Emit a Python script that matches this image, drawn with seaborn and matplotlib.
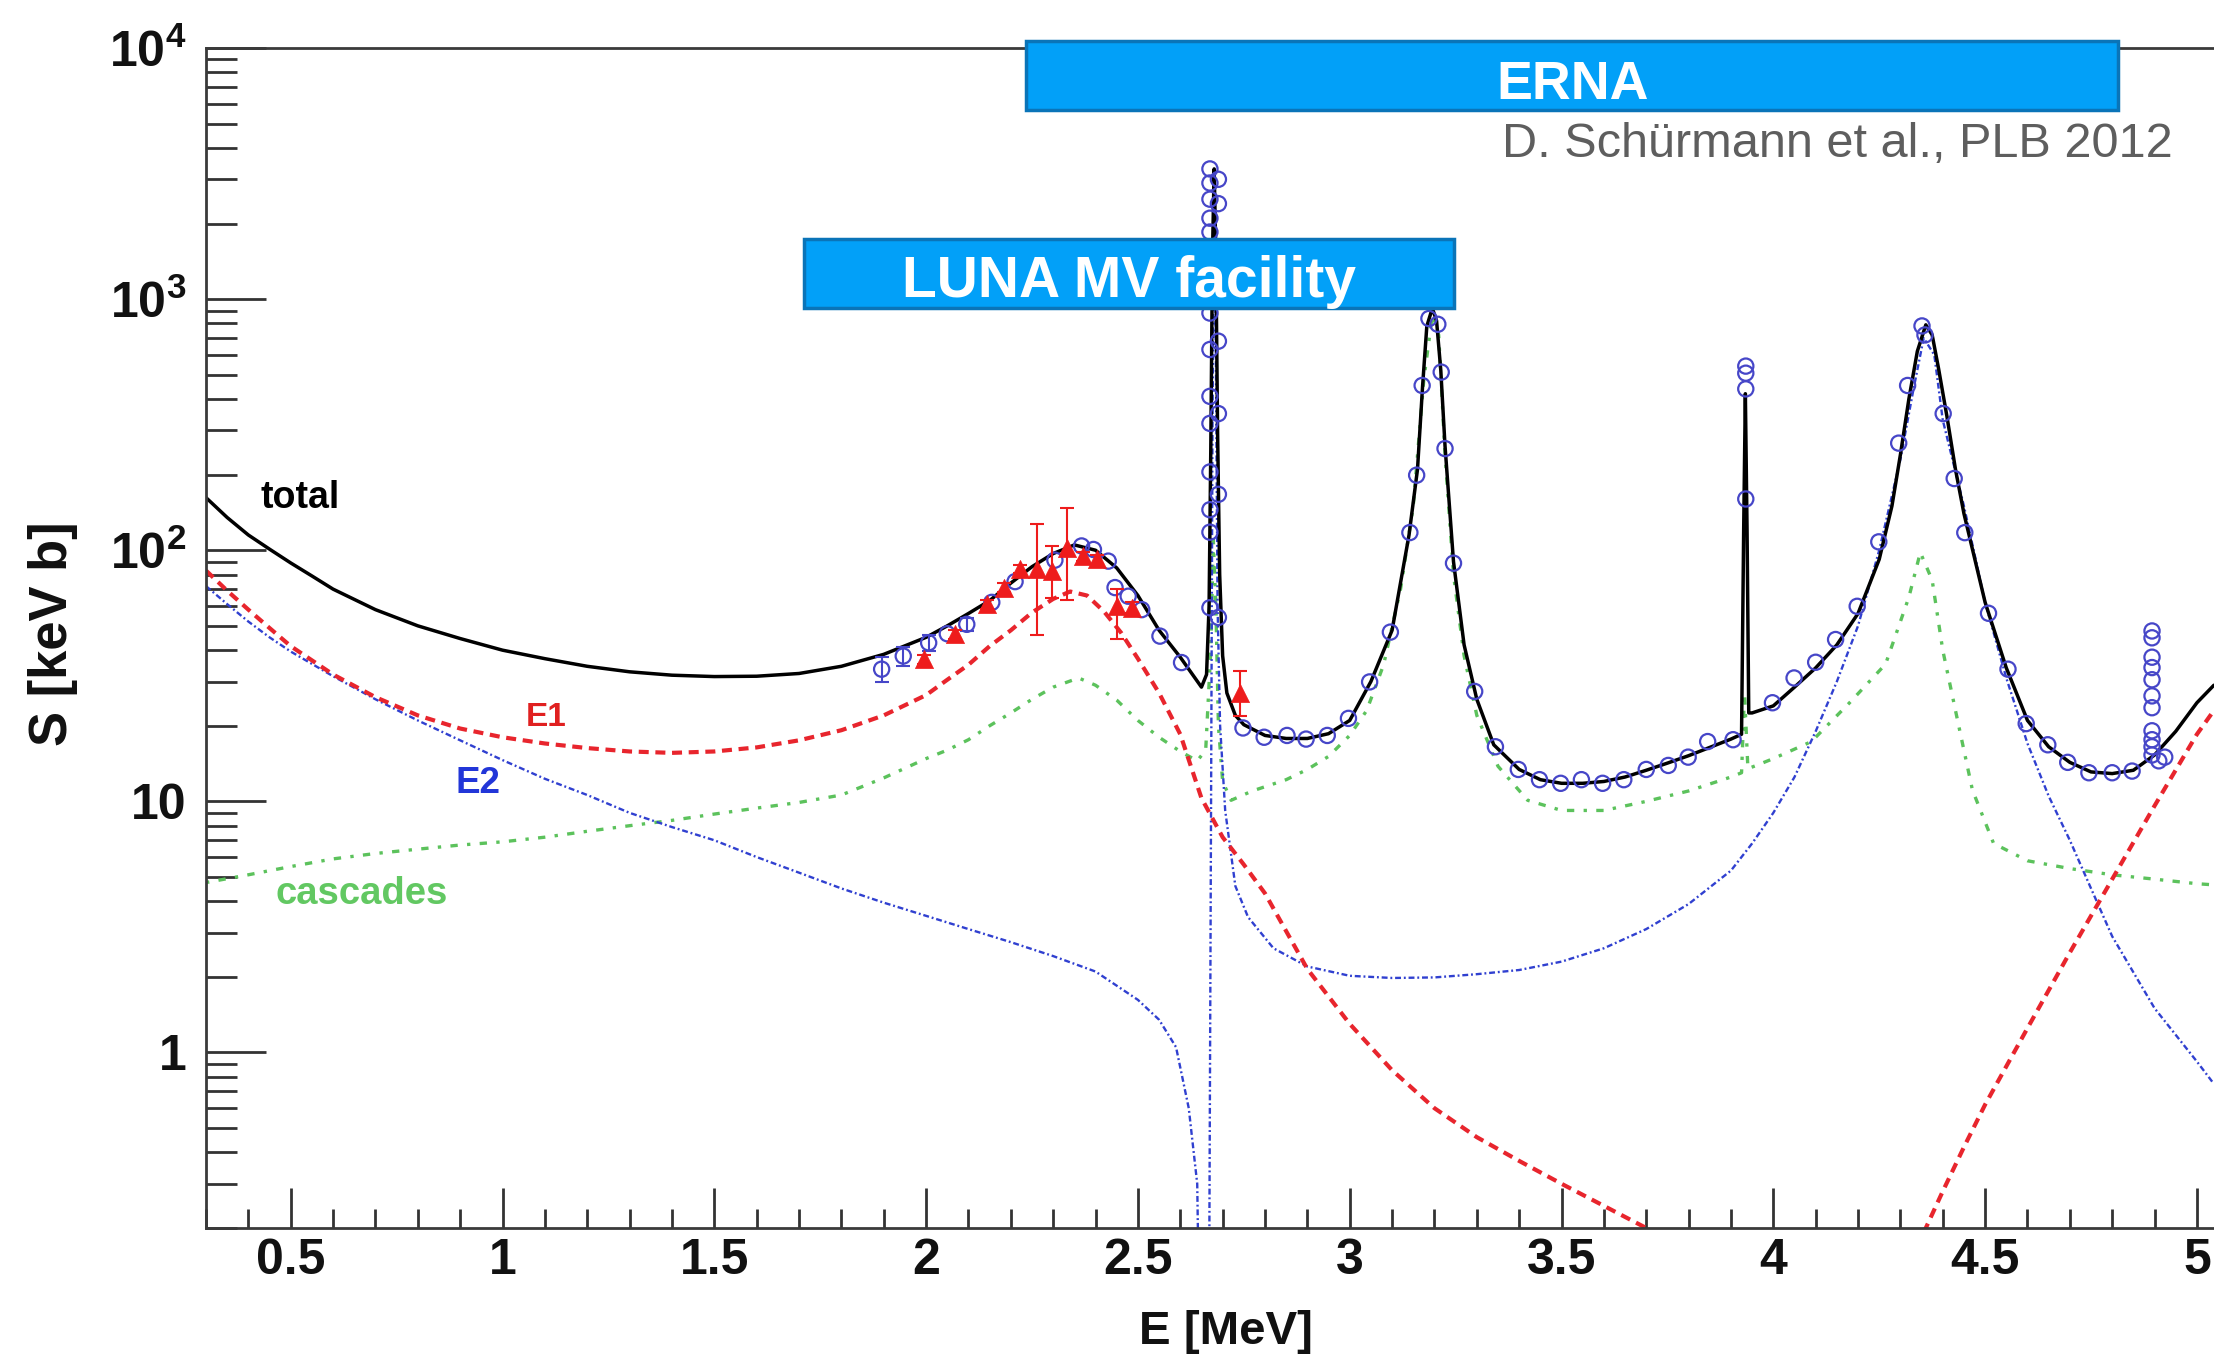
import numpy as np
import pandas as pd
import matplotlib
matplotlib.use("Agg")
import matplotlib.pyplot as plt
from matplotlib import font_manager as fm
from matplotlib.patches import Rectangle
from matplotlib.ticker import MultipleLocator, LogLocator, NullFormatter
import seaborn as sns

# ---------------- data ----------------
total_E = [0.30, 0.35, 0.40, 0.45, 0.50, 0.55, 0.60, 0.70, 0.80, 0.90, 1.00, 1.10, 1.20, 1.30,
           1.40, 1.50, 1.60, 1.70, 1.80, 1.90, 2.00, 2.05, 2.10, 2.15, 2.20, 2.25, 2.30, 2.35,
           2.40, 2.45, 2.50, 2.55, 2.60, 2.650, 2.662, 2.668, 2.672, 2.676, 2.680, 2.684, 2.688,
           2.693, 2.700, 2.710, 2.730, 2.750, 2.800, 2.850, 2.900, 2.950, 3.000, 3.050, 3.100,
           3.140, 3.160, 3.172, 3.182, 3.195, 3.205, 3.215, 3.225, 3.245, 3.270, 3.300, 3.340,
           3.400, 3.450, 3.500, 3.550, 3.600, 3.650, 3.700, 3.750, 3.800, 3.850, 3.900, 3.925,
           3.930, 3.934, 3.938, 3.942, 3.950, 4.000, 4.050, 4.100, 4.150, 4.200, 4.250, 4.280,
           4.300, 4.320, 4.340, 4.360, 4.375, 4.390, 4.410, 4.430, 4.450, 4.500, 4.550, 4.600,
           4.650, 4.700, 4.750, 4.800, 4.850, 4.900, 4.950, 5.000, 5.040]
total_S = [162, 135, 115, 101, 89, 79, 70, 58, 50, 44.5, 40, 37, 34.5, 32.8,
           31.8, 31.4, 31.5, 32.3, 34.5, 38.5, 45, 50, 56, 63, 74, 86, 97, 105,
           100, 85, 66, 48, 37.5, 28.5, 32, 60, 250, 1500, 3300, 1500, 300,
           80, 38, 27, 22, 20.2, 18.3, 17.8, 17.8, 18.6, 21, 30, 48,
           115, 210, 450, 780, 920, 820, 520, 260, 90, 42, 25.5, 16.8,
           13.4, 12.2, 11.8, 11.8, 12.0, 12.5, 13.3, 14.2, 15.2, 16.4, 17.7, 18.5,
           120, 420, 120, 22.5, 22.5, 24, 28.5, 34, 42, 56, 92, 150,
           240, 400, 620, 790, 720, 530, 340, 210, 140, 62, 34, 21,
           16.5, 14.3, 13.1, 12.9, 13.3, 15.3, 19, 24.7, 29]

e1_E = [0.30, 0.35, 0.40, 0.45, 0.50, 0.60, 0.70, 0.80, 0.90, 1.00, 1.10, 1.20, 1.30, 1.40,
        1.50, 1.60, 1.70, 1.80, 1.90, 2.00, 2.05, 2.10, 2.15, 2.20, 2.25, 2.30, 2.34, 2.38,
        2.42, 2.46, 2.50, 2.55, 2.60, 2.65, 2.70, 2.75, 2.80, 2.90, 3.00, 3.10, 3.20, 3.30,
        3.40, 3.50, 3.60, 3.70, 3.75]
e1_S = [83, 69, 58, 49, 41.5, 32, 26, 22, 19.5, 18, 17, 16.3, 15.8, 15.6,
        15.8, 16.4, 17.5, 19.2, 22, 26.5, 30.5, 35, 41.5, 48, 56.5, 64, 68.5, 66,
        57, 47, 37, 27, 18.5, 10.3, 7.2, 5.6, 4.3, 2.15, 1.3, 0.85, 0.6, 0.46,
        0.37, 0.3, 0.245, 0.2, 0.18]
e1_high_E = [4.33, 4.36, 4.40, 4.45, 4.50, 4.60, 4.70, 4.80, 4.90, 5.00, 5.04]
e1_high_S = [0.17, 0.2, 0.28, 0.42, 0.62, 1.25, 2.5, 4.9, 9.6, 18.5, 23]

e2_E = [0.30, 0.35, 0.40, 0.45, 0.50, 0.60, 0.70, 0.80, 0.90, 1.00, 1.10, 1.20, 1.30, 1.40,
        1.50, 1.60, 1.70, 1.80, 1.90, 2.00, 2.10, 2.20, 2.30, 2.40, 2.50, 2.55, 2.59, 2.62,
        2.64, 2.645, 2.660, 2.668, 2.672, 2.676, 2.680, 2.684, 2.688, 2.694, 2.706, 2.73,
        2.76, 2.82, 2.90, 3.00, 3.10, 3.20, 3.30, 3.40, 3.50, 3.60, 3.70, 3.80, 3.90, 3.95,
        4.00, 4.05, 4.10, 4.15, 4.20, 4.25, 4.30, 4.33, 4.355, 4.38, 4.40, 4.45, 4.50, 4.55,
        4.60, 4.65, 4.70, 4.75, 4.80, 4.90, 5.00, 5.04]
e2_S = [72, 61, 52, 45, 39.5, 31.5, 25.5, 21, 17.5, 14.6, 12.3, 10.6, 9.0, 7.9,
        7.0, 6.0, 5.2, 4.5, 3.95, 3.5, 3.1, 2.75, 2.42, 2.1, 1.62, 1.35, 1.05, 0.6,
        0.3, 0.08, 0.05, 0.1, 5, 300, 2500, 600, 60, 20, 9.2, 4.6,
        3.46, 2.6, 2.2, 2.02, 1.98, 1.99, 2.05, 2.13, 2.3, 2.6, 3.1, 3.9, 5.3, 6.8,
        9.0, 12.5, 19, 30, 50, 100, 230, 430, 700, 600, 330, 150, 62, 31,
        17, 10.5, 7.0, 4.5, 2.9, 1.5, 0.92, 0.75]

casc_E = [0.30, 0.40, 0.50, 0.60, 0.70, 0.80, 0.90, 1.00, 1.10, 1.20, 1.30, 1.40, 1.50, 1.60,
          1.70, 1.80, 1.90, 2.00, 2.05, 2.10, 2.15, 2.20, 2.25, 2.30, 2.36, 2.40, 2.45, 2.50,
          2.55, 2.60, 2.64, 2.66, 2.672, 2.678, 2.684, 2.690, 2.700, 2.720, 2.770, 2.850,
          2.900, 2.950, 3.000, 3.040, 3.080, 3.120, 3.150, 3.175, 3.195, 3.210, 3.225, 3.245,
          3.270, 3.300, 3.350, 3.420, 3.500, 3.600, 3.700, 3.800, 3.900, 3.925, 3.932, 3.940,
          3.960, 4.000, 4.090, 4.180, 4.265, 4.320, 4.347, 4.375, 4.400, 4.435, 4.470, 4.520,
          4.600, 4.700, 4.800, 4.900, 5.000, 5.040]
casc_S = [4.75, 5.1, 5.5, 5.9, 6.2, 6.45, 6.7, 6.9, 7.2, 7.6, 8.0, 8.4, 8.9, 9.4,
          9.9, 10.6, 12.4, 14.8, 16, 17.6, 20, 22.5, 25.5, 28.5, 31, 29, 25.3, 21,
          18, 15.8, 14.5, 16, 40, 110, 60, 20, 12, 10.1, 11.0, 12.2,
          13.4, 15.1, 18.3, 23, 35, 70, 150, 480, 860, 720, 240, 80,
          38, 22, 13.8, 10.1, 9.2, 9.2, 10.0, 11.0, 12.5, 13, 27, 13.5,
          13.9, 14.8, 17.3, 24.7, 35.2, 65, 98, 76, 40, 21, 11.1, 6.8,
          5.8, 5.4, 5.1, 4.9, 4.7, 4.65]

erna_E = [1.895, 1.946, 2.006, 2.050, 2.096, 2.155, 2.210, 2.304, 2.367, 2.395, 2.430, 2.446,
          2.477, 2.509, 2.552, 2.603,
          2.670, 2.670, 2.670, 2.670, 2.670, 2.670, 2.670, 2.670, 2.670, 2.670, 2.670, 2.670,
          2.670, 2.690, 2.690, 2.690, 2.690, 2.690, 2.690,
          2.748, 2.798, 2.852, 2.897, 2.947, 2.997, 3.047, 3.096, 3.142, 3.158, 3.171, 3.187,
          3.208, 3.216, 3.225, 3.245, 3.295, 3.344, 3.398, 3.448, 3.498, 3.547, 3.597, 3.647,
          3.700, 3.752, 3.799, 3.845, 3.905, 3.935, 3.935, 3.935, 3.935,
          3.998, 4.049, 4.100, 4.147, 4.198, 4.249, 4.296, 4.317, 4.351, 4.358, 4.401, 4.427,
          4.452, 4.508, 4.554, 4.597, 4.648, 4.695, 4.745, 4.800, 4.847,
          4.894, 4.894, 4.894, 4.894, 4.894, 4.894, 4.894, 4.894, 4.894, 4.894, 4.894,
          4.910, 4.924]
erna_S = [33.6, 37.9, 42.8, 46.5, 50.7, 62, 75, 91.3, 104, 100.7, 90.5, 71,
          65.6, 58, 45.5, 35.7,
          3300, 2900, 2500, 2100, 1850, 880, 630, 410, 320, 205, 145, 118,
          59, 3000, 2400, 680, 350, 167, 54,
          19.6, 18.0, 18.3, 17.7, 18.3, 21.4, 29.9, 47.2, 117.6, 199, 453, 837,
          794, 512, 254, 88.8, 27.4, 16.5, 13.4, 12.2, 11.8, 12.2, 11.8, 12.2,
          13.4, 13.9, 15.0, 17.3, 17.6, 541, 507, 439, 160,
          24.7, 31, 35.8, 44.1, 59.8, 108, 267, 453, 782, 720, 350, 193,
          117.5, 56.1, 33.6, 20.4, 16.8, 14.3, 13.0, 13.0, 13.2,
          47.7, 44.8, 37.5, 34.1, 30.5, 26.3, 23.6, 19.1, 17.6, 16.5, 15.3,
          14.5, 15.0]
erna_err_E = [1.895, 1.946, 2.006, 2.096]
erna_err_S = [33.6, 37.9, 42.8, 50.7]
erna_err = [3.8, 3.4, 3.0, 2.8]

tri_E = [1.994, 2.068, 2.143, 2.183, 2.222, 2.261, 2.296, 2.332, 2.371, 2.403, 2.450, 2.485, 2.741]
tri_S = [36.8, 46.2, 60.9, 71, 84, 84, 82.6, 102.5, 94.8, 91.9, 60, 59, 27.1]
tri_err_lo = [1.5, 2, 2.5, 3, 3, 38, 18, 39, 4, 4, 15.8, 3, 5.2]
tri_err_hi = [1.5, 2, 2.5, 3, 3, 43, 21.4, 45, 4, 4, 9.8, 3, 5.8]

x_tick_vals = [0.5, 1, 1.5, 2, 2.5, 3, 3.5, 4, 4.5, 5]
x_tick_labels = ["0.5", "1", "1.5", "2", "2.5", "3", "3.5", "4", "4.5", "5"]
y_tick_vals = [1, 10, 100, 1000, 10000]
y_tick_labels = ["1", "10", r"$10^{2}$", r"$10^{3}$", r"$10^{4}$"]

# ---------------- style ----------------
sns.set_style("white")
installed = {f.name for f in fm.fontManager.ttflist}
if "Liberation Sans Narrow" in installed:
    AXFONT, AXSCALE = "Liberation Sans Narrow", 1.0
else:
    AXFONT, AXSCALE = "Liberation Sans", 0.9
plt.rcParams["font.family"] = ["Liberation Sans", "DejaVu Sans"]
plt.rcParams["mathtext.fontset"] = "custom"
plt.rcParams["mathtext.rm"] = AXFONT + ":bold"
plt.rcParams["mathtext.it"] = AXFONT + ":bold"
plt.rcParams["mathtext.bf"] = AXFONT + ":bold"

W, H = 2214, 1355
fig = plt.figure(figsize=(W / 100, H / 100), dpi=100)
fig.patch.set_facecolor("white")
ax = fig.add_axes([206 / W, 1 - 1228 / H, (W - 206) / W, 1180 / H])
ax.set_yscale("log")

C_TOT = "black"
C_E1 = "#e8252d"
C_E2 = "#3040d0"
C_CAS = "#5cc25c"
C_ERNA = "#4646c8"
C_TRI = "#ee1c1c"

df_tot = pd.DataFrame({"E": total_E, "S": total_S})
df_e1 = pd.DataFrame({"E": e1_E + e1_high_E, "S": e1_S + e1_high_S,
                      "branch": [0] * len(e1_E) + [1] * len(e1_high_E)})
df_e2 = pd.DataFrame({"E": e2_E, "S": e2_S})
df_cas = pd.DataFrame({"E": casc_E, "S": casc_S})

sns.lineplot(data=df_cas, x="E", y="S", estimator=None, sort=False, color=C_CAS, lw=2.4, ax=ax)
ax.lines[-1].set_dashes((1, 2.8, 2.2, 2.8))
sns.lineplot(data=df_e2, x="E", y="S", estimator=None, sort=False, color=C_E2, lw=1.7, ax=ax)
ax.lines[-1].set_dashes((2.5, 1.2, 0.8, 1.2))
sns.lineplot(data=df_e1, x="E", y="S", units="branch", estimator=None, sort=False,
             color=C_E1, lw=3.0, ax=ax)
for ln in ax.lines[-2:]:
    ln.set_dashes((2.4, 1.6))
sns.lineplot(data=df_tot, x="E", y="S", estimator=None, sort=False, color=C_TOT, lw=2.5, ax=ax)

# data points
ax.errorbar(erna_err_E, erna_err_S, yerr=erna_err, fmt="none", ecolor=C_ERNA,
            elinewidth=1.5, capsize=5, capthick=1.5, zorder=3)
sns.scatterplot(x=erna_E, y=erna_S, marker="o", s=120, facecolor="none",
                edgecolor=C_ERNA, linewidth=1.6, ax=ax, zorder=4)
ax.errorbar(tri_E, tri_S, yerr=[tri_err_lo, tri_err_hi], fmt="none", ecolor=C_TRI,
            elinewidth=1.5, capsize=5, capthick=1.5, zorder=4)
sns.scatterplot(x=tri_E, y=tri_S, marker="^", s=170, color=C_TRI, edgecolor=C_TRI,
                linewidth=0.5, ax=ax, zorder=5)

# axes limits & ticks
ax.set_xlim(0.3, 0.3 + (W - 206) / 423.6)
ax.set_ylim(0.2, 1e4)
ax.set_xticks(x_tick_vals)
ax.set_xticklabels(x_tick_labels)
ax.xaxis.set_minor_locator(MultipleLocator(0.1))
ax.set_yticks(y_tick_vals)
ax.set_yticklabels(y_tick_labels)
ax.yaxis.set_minor_locator(LogLocator(base=10, subs=np.arange(2, 10), numticks=100))
ax.yaxis.set_minor_formatter(NullFormatter())

TICKSIZE = 40 * AXSCALE
ax.tick_params(axis="y", which="major", direction="in", length=43, width=2,
               color="#333333", pad=14, labelsize=TICKSIZE, left=True)
ax.tick_params(axis="y", which="minor", direction="in", length=22, width=2,
               color="#333333", left=True)
ax.tick_params(axis="x", which="major", direction="in", length=29, width=2,
               color="#333333", pad=7, labelsize=TICKSIZE, bottom=True)
ax.tick_params(axis="x", which="minor", direction="in", length=14, width=2,
               color="#333333", bottom=True)
for lab in ax.get_xticklabels() + ax.get_yticklabels():
    lab.set_fontfamily([AXFONT, "DejaVu Sans"])
    lab.set_fontweight("bold")
    lab.set_color("#111111")

for side in ["left", "bottom", "top"]:
    ax.spines[side].set_visible(True)
    ax.spines[side].set_color("#3a3a3a")
    ax.spines[side].set_linewidth(2)
ax.spines["right"].set_visible(False)
ax.grid(False)

ax.set_xlabel("E [MeV]", fontsize=38 * AXSCALE, fontweight="bold", va="center",
              color="#111111", family=[AXFONT, "DejaVu Sans"])
ax.xaxis.set_label_coords(0.508, -0.088)
ax.set_ylabel("S [keV b]", fontsize=42 * AXSCALE, fontweight="bold", va="center",
              ha="center", color="#111111", family=[AXFONT, "DejaVu Sans"])
ax.yaxis.set_label_coords(-0.0762, 0.504)

# curve labels
ax.text(0.522, 162, "total", color="black", fontsize=27, fontweight="bold",
        ha="center", va="center")
ax.text(1.104, 21.6, "E1", color="#e02020", fontsize=24, fontweight="bold",
        ha="center", va="center")
ax.text(0.943, 11.8, "E2", color="#2236d8", fontsize=26.5, fontweight="bold",
        ha="center", va="center")
ax.text(0.668, 4.27, "cascades", color="#62c862", fontsize=27.5, fontweight="bold",
        ha="center", va="center")

# facility boxes (figure coordinates)
BOX_FILL = "#02a0f8"
BOX_EDGE = "#0a74b8"
erna_box = Rectangle((1025.5 / W, 1 - 110 / H), (2118.3 - 1025.5) / W, 69 / H,
                     transform=fig.transFigure, facecolor=BOX_FILL, edgecolor=BOX_EDGE,
                     linewidth=2.5, zorder=10)
luna_box = Rectangle((804 / W, 1 - 307.5 / H), (1454 - 804) / W, 68.5 / H,
                     transform=fig.transFigure, facecolor=BOX_FILL, edgecolor=BOX_EDGE,
                     linewidth=2.5, zorder=10)
fig.add_artist(erna_box)
fig.add_artist(luna_box)
fig.text(1573 / W, 1 - 99 / H, "ERNA", color="white", fontsize=43 * AXSCALE,
         fontweight="bold", ha="center", va="baseline", zorder=11,
         family=[AXFONT, "DejaVu Sans"])
fig.text(1129 / W, 1 - 297 / H, "LUNA MV facility", color="white", fontsize=41,
         fontweight="bold", ha="center", va="baseline", zorder=11)
fig.text(1837 / W, 1 - 156.7 / H, "D. Schürmann et al., PLB 2012", color="#5e5e5e",
         fontsize=35, ha="center", va="baseline", zorder=11)

fig.savefig("out.png", dpi=100, facecolor="white")
